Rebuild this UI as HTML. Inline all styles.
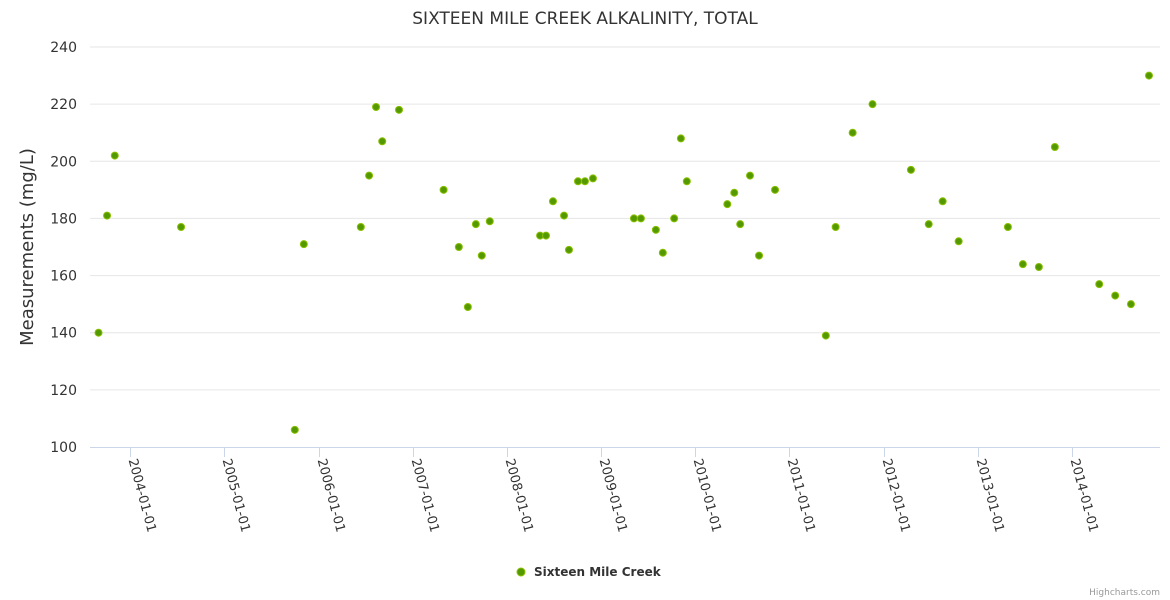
<!DOCTYPE html>
<html><head><meta charset="utf-8"><style>
body{margin:0;background:#fff;}
svg{display:block;font-family:"DejaVu Sans","Liberation Sans",sans-serif;}
</style></head><body>
<svg id="chart" width="1170" height="600">
<text x="585" y="24" text-anchor="middle" font-size="17" fill="#333">SIXTEEN MILE CREEK ALKALINITY, TOTAL</text>
<text transform="translate(33,247) rotate(-90)" text-anchor="middle" font-size="18" fill="#333">Measurements (mg/L)</text>
<g id="grid"></g><g id="xaxis"></g><g id="points"></g>
<g>
<circle cx="521" cy="572" r="4" fill="#559900" stroke="#88c000" stroke-width="1"/>
<text x="534" y="576" font-size="12" font-weight="bold" fill="#333">Sixteen Mile Creek</text>
</g>
<text x="1160" y="595" text-anchor="end" font-size="9" fill="#999">Highcharts.com</text>
</svg>
<script>
const dates=["2003-09-01","2003-10-04","2003-11-03","2004-07-17","2005-10-01","2005-11-05","2006-06-14","2006-07-16","2006-08-12","2006-09-05","2006-11-09","2007-05-01","2007-06-29","2007-08-03","2007-09-03","2007-09-26","2007-10-27","2008-05-09","2008-06-01","2008-06-28","2008-08-10","2008-08-29","2008-10-03","2008-10-30","2008-11-30","2009-05-08","2009-06-04","2009-08-01","2009-08-28","2009-10-11","2009-11-06","2009-11-29","2010-05-05","2010-06-01","2010-06-24","2010-08-01","2010-09-05","2010-11-06","2011-05-22","2011-06-29","2011-09-03","2011-11-19","2012-04-16","2012-06-24","2012-08-17","2012-10-18","2013-04-27","2013-06-24","2013-08-25","2013-10-26","2014-04-16","2014-06-17","2014-08-17","2014-10-26"];
const values=[140,181,202,177,106,171,177,195,219,207,218,190,170,149,178,167,179,174,174,186,181,169,193,193,194,180,180,176,168,180,208,193,185,189,178,195,167,190,139,177,210,220,197,178,186,172,177,164,163,205,157,153,150,230];
const yTicks=[100,120,140,160,180,200,220,240];
const xTicks=["2004-01-01","2005-01-01","2006-01-01","2007-01-01","2008-01-01","2009-01-01","2010-01-01","2011-01-01","2012-01-01","2013-01-01","2014-01-01"];
const NS="http://www.w3.org/2000/svg";
const t0=Date.UTC(2004,0,1);
function xs(d){const p=d.split("-").map(Number);const t=Date.UTC(p[0],p[1]-1,p[2]);return 130+(t-t0)/86400000/365.25*94.2;}
function ys(v){return 447-(v-100)*400/140;}
function mk(tag,a,parent){const e=document.createElementNS(NS,tag);for(const k in a)e.setAttribute(k,a[k]);parent.appendChild(e);return e;}
const grid=document.getElementById("grid"),xa=document.getElementById("xaxis"),pts=document.getElementById("points");
yTicks.forEach(v=>{
 const y=ys(v);
 if(v>100){const l=mk("line",{x1:90,x2:1160,y1:y,y2:y,stroke:"#e6e6e6","stroke-width":1},grid);
 
 }
 const t=mk("text",{x:77,y:y+5,"text-anchor":"end","font-size":14,fill:"#333"},grid);t.textContent=v;
 
 
});
const ax=mk("line",{x1:90,x2:1160,y1:447.5,y2:447.5,stroke:"#ccd6eb","stroke-width":1},xa);


xTicks.forEach(d=>{
 const x=Math.round(xs(d))+0.5;
 const tk=mk("line",{x1:x,x2:x,y1:447,y2:457,stroke:"#ccd6eb"},xa);
 
 
 const t=mk("text",{transform:`translate(${x-2},460) rotate(75)`,"font-size":13,fill:"#333"},xa);t.textContent=d;
 
 
});
dates.forEach((d,i)=>{
 const c=mk("circle",{cx:xs(d),cy:ys(values[i]),r:3.5,fill:"#559900",stroke:"#88c000","stroke-width":1},pts);
 
 
});
</script>
</body></html>
